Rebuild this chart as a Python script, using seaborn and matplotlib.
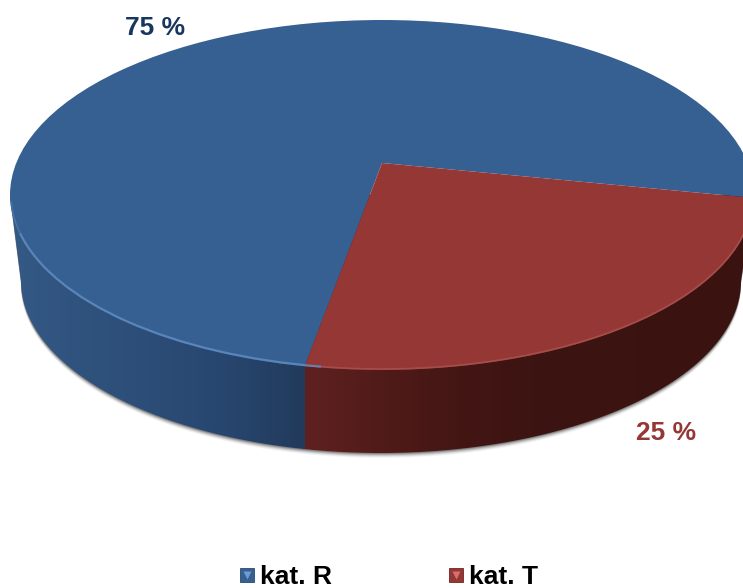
import numpy as np
import matplotlib
matplotlib.use("Agg")
import matplotlib.pyplot as plt
from matplotlib.patches import Ellipse, Arc, Polygon
from matplotlib.lines import Line2D
from matplotlib.colors import LinearSegmentedColormap
import seaborn as sns

categories = ["kat. R", "kat. T"]
values = [75, 25]
palette = ["#376092", "#953735"]
label_colors = ["#17375E", "#953735"]
light_marks = ["#6F9BD0", "#D96F6C"]
dark_edges = ["#2A4A72", "#6E2725"]

sns.set_theme(style="white")
plt.rcParams["font.family"] = ["Liberation Sans", "DejaVu Sans"]

W, H = 743, 588
STRETCH = 2.01  # pie is a circle in data units; the y axis flattens it


def Y(py):
    return (H - py) * STRETCH


fig = plt.figure(figsize=(W / 100, H / 100), dpi=100, facecolor="white")
ax = fig.add_axes([0, 0, 1, 1])

top_cx, top_cy, top_a, top_b = 382, 195, 372, 175
low_cx, low_cy, low_a, low_b = 381, 281, 360, 172

# top surface first, so that the axes settings below can override what pie sets
apex_x, apex_y = 382, 163
wedges, _ = ax.pie(
    values,
    colors=palette,
    startangle=-10.7,
    counterclock=True,
    center=(apex_x, Y(apex_y)),
    radius=1000,
    frame=True,
    wedgeprops={"linewidth": 0, "edgecolor": "none"},
)
ax.set_aspect("auto")
ax.set_xlim(0, W)
ax.set_ylim(0, H * STRETCH)
ax.set_xticks([])
ax.set_yticks([])
for s in ax.spines.values():
    s.set_visible(False)


def wall_outline(dy=0):
    t = np.radians(np.linspace(180, 360, 181))
    lx = low_cx + low_a * np.cos(t)
    ly = low_cy - low_b * np.sin(t) + dy
    ux = top_cx + top_a * np.cos(t[::-1])
    uy = top_cy + dy + 0 * t
    return np.column_stack([np.r_[lx, ux], Y(np.r_[ly, uy])])


# soft shadow below the disc
for d, alpha in zip([1, 2, 3, 4, 5], [0.22, 0.16, 0.11, 0.07, 0.04]):
    ax.add_patch(Polygon(wall_outline(d), closed=True, fc="black", ec="none", alpha=alpha, zorder=1))

# side wall with horizontal shading
wall_cmap = LinearSegmentedColormap.from_list(
    "wall",
    [(0.0, "#345A85"), (0.12, "#2F527D"), (0.29, "#284770"), (0.4095, "#223B5C"),
     (0.4105, "#5F2120"), (0.50, "#521C1A"), (0.62, "#431614"), (0.72, "#3C1412"), (1.0, "#3A1311")],
)
grad = np.linspace(0, 1, 743)[None, :]
img = ax.imshow(grad, cmap=wall_cmap, extent=(0, W, Y(460), Y(180)), aspect="auto", zorder=2)
ax.set_xlim(0, W)
ax.set_ylim(0, H * STRETCH)
clip_wall = Polygon(wall_outline(), closed=True, fc="none", ec="none", zorder=2)
ax.add_patch(clip_wall)
img.set_clip_path(clip_wall)

rim = Ellipse((top_cx, Y(top_cy)), 2 * top_a, 2 * top_b * STRETCH, fc="none", ec="none", zorder=3)
ax.add_patch(rim)
for w in wedges:
    w.set_zorder(3)
    w.set_clip_on(True)
    w.set_clip_path(rim)

# light rim on the front edge
for th1, th2, col, lw in [(8, 100, "#A9524F", 1.2), (100, 168, "#5F8CC2", 1.6), (168, 178, "#4A76AA", 1.2)]:
    ax.add_patch(Arc((top_cx, Y(top_cy)), 2 * top_a - 2, (2 * top_b - 2) * STRETCH,
                     theta1=-th2, theta2=-th1, color=col, lw=lw, zorder=4, alpha=0.85))

# value labels
ax.text(155, Y(28), f"{values[0]} %", color=label_colors[0], fontsize=19, fontweight="bold",
        ha="center", va="center", zorder=5)
ax.text(666, Y(433), f"{values[1]} %", color=label_colors[1], fontsize=19, fontweight="bold",
        ha="center", va="center", zorder=5)

# legend: square key with a lighter bevel on top
handles = [
    (Line2D([], [], ls="none", marker="s", ms=10, mfc=c, mec=e, mew=0.6),
     Line2D([], [], ls="none", marker="v", ms=6, mfc=lc, mec="none"))
    for c, e, lc in zip(palette, dark_edges, light_marks)
]
leg = ax.legend(
    handles, categories, ncols=2, frameon=False,
    loc="center", bbox_to_anchor=(388.5 / W, 1 - 577 / H),
    prop={"family": "Liberation Sans", "weight": "bold", "size": 19},
    handlelength=0.6, handletextpad=0.2, columnspacing=4.4, borderpad=0, labelcolor="black",
)
leg.set_zorder(6)

fig.savefig("out.png", dpi=100, facecolor="white")
